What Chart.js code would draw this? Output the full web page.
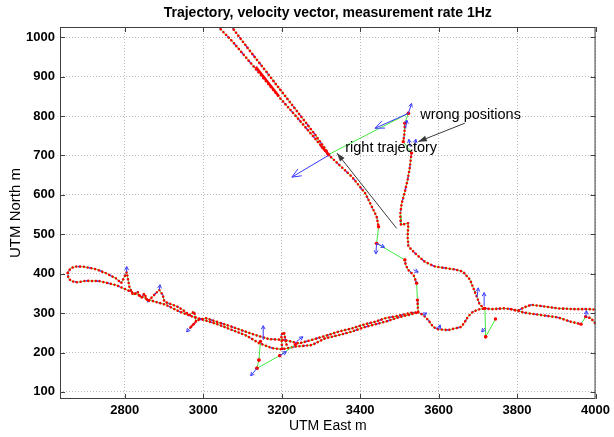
<!DOCTYPE html>
<html>
<head>
<meta charset="utf-8">
<script src="https://cdn.jsdelivr.net/npm/chart.js@4"></script>
<style>
  html, body { margin: 0; padding: 0; background: #fff; }
</style>
</head>
<body>
<canvas id="chart" width="614" height="437"></canvas>
<script>
// tick labels
const xTicks = [2800, 3000, 3200, 3400, 3600, 3800, 4000];
const yTicks = [100, 200, 300, 400, 500, 600, 700, 800, 900, 1000];

// measured positions (UTM East, UTM North), one track per continuous run
const diagLeft = [[3038, 1027], [3074, 990], [3142, 910], [3193, 849], [3244, 791], [3286, 742], [3319, 702]];
const diagRight = [[3072, 1027], [3117, 968], [3159, 915], [3201, 861], [3244, 806], [3286, 752], [3315, 711], [3319, 702]];
const diagDown = [[3319, 702], [3379, 646], [3413, 604], [3442, 545], [3447, 519]];
const rightTop = [[3514, 782], [3513, 756], [3510, 735]];
const rightDown = [[3531, 706], [3527, 672], [3521, 638], [3513, 604], [3506, 579], [3502, 549], [3504, 524], [3523, 528],
  [3521, 494], [3523, 469], [3540, 452], [3565, 430], [3591, 418], [3620, 414], [3645, 410], [3662, 405], [3680, 385],
  [3690, 360], [3698, 340], [3705, 321], [3718, 312]];
const leftDown = [[3514, 435], [3516, 422], [3523, 409], [3536, 397], [3544, 376]];
const leftJoin = [[3546, 333], [3547, 315], [3548, 302]];
const bandUpper = [[2655, 402], [2662, 414], [2675, 418], [2694, 418], [2728, 411], [2753, 401], [2778, 388], [2791, 376],
  [2805, 404], [2812, 366], [2821, 346], [2833, 354], [2842, 338], [2850, 350], [2859, 329], [2871, 342], [2888, 359],
  [2897, 346], [2901, 329], [2922, 321], [2935, 316], [2948, 308], [2965, 295], [2977, 304], [2982, 278], [2965, 261],
  [2985, 282], [3007, 287], [3041, 276], [3074, 265], [3108, 253], [3134, 244], [3168, 234], [3206, 232], [3244, 223],
  [3277, 232], [3311, 242], [3345, 253], [3379, 261], [3413, 272], [3438, 278], [3464, 287], [3497, 293], [3531, 301], [3548, 302]];
const bandLower = [[2655, 402], [2656, 389], [2664, 381], [2680, 378], [2700, 382], [2736, 381], [2778, 371], [2821, 352],
  [2863, 333], [2905, 321], [2939, 304], [2973, 291], [3007, 281], [3041, 270], [3074, 257], [3108, 244], [3142, 224],
  [3176, 211], [3201, 208], [3235, 215], [3277, 219], [3311, 236], [3345, 244], [3379, 253], [3413, 265], [3464, 278],
  [3497, 289], [3523, 295], [3548, 302]];
const spikeCluster = [[3201, 210], [3199, 245], [3206, 252], [3210, 228], [3214, 215]];
const branchLow = [[3548, 302], [3561, 295], [3574, 282], [3586, 265], [3599, 259], [3624, 257], [3641, 261], [3658, 265],
  [3667, 278], [3675, 291], [3688, 304], [3705, 310], [3718, 312]];
const eastUpper = [[3718, 312], [3734, 310], [3768, 312], [3785, 310], [3802, 306], [3819, 315], [3836, 321], [3861, 318],
  [3904, 312], [3946, 310], [3988, 310], [4005, 308]];
const eastLower = [[3785, 310], [3819, 301], [3861, 295], [3904, 289], [3937, 278], [3963, 272]];
const eastEnd = [[3975, 291], [3988, 287], [4005, 268]];
const tracks = [diagLeft, diagRight, diagDown, rightTop, rightDown, leftDown, leftJoin, bandUpper, bandLower,
  spikeCluster, branchLow, eastUpper, eastLower, eastEnd];

// dense stretches drawn solid red
const denseRuns = [[[3134, 925], [3193, 850]], [[3300, 724], [3322, 700]]];

// position jumps (no samples in between)
const jumps = [
  [[3319, 702], [3523, 807]], [[3523, 807], [3514, 782]], [[3510, 735], [3531, 706]],
  [[3447, 519], [3442, 477]], [[3442, 477], [3514, 435]], [[3544, 376], [3546, 333]],
  [[3146, 228], [3142, 181]], [[3142, 181], [3137, 160]], [[3137, 160], [3195, 192]], [[3195, 192], [3235, 220]],
  [[3718, 312], [3720, 240]], [[3720, 240], [3745, 285]], [[3963, 272], [3975, 291]]
];

// velocity vectors [start, tip]
const longVectors = [[[3319, 700], [3226, 645]], [[3523, 807], [3438, 769]]];
const vectors = [
  [[3523, 807], [3531, 832]], [[3528, 722], [3524, 741]], [[3538, 722], [3542, 741]], [[3516, 768], [3519, 790]],
  [[3442, 477], [3440, 450]], [[3442, 477], [3462, 467]], [[3536, 410], [3548, 404]], [[3137, 160], [3121, 141]],
  [[3195, 192], [3212, 202]], [[3238, 228], [3254, 240]], [[3153, 232], [3153, 268]], [[3716, 318], [3716, 352]],
  [[3698, 340], [3701, 364]], [[3718, 262], [3710, 252]], [[2805, 404], [2805, 418]], [[2888, 359], [2890, 372]],
  [[2965, 261], [2958, 252]], [[3560, 295], [3570, 300]], [[3975, 291], [3977, 306]], [[3600, 259], [3604, 270]]
];

// annotations
const noteLabels = ['wrong positions', 'right trajectory'];
const noteAt = [[3553, 803], [3362, 718]];
const noteFrom = [[3667, 782], [3493, 515]];
const noteTo = [[3548, 735], [3341, 706]];

const RED = '#ff0000';
const GREEN = '#3fe83f';
const BLUE = '#3a3aff';
const FONT = '"Liberation Sans", Arial, Helvetica, sans-serif';

const pts = arr => arr.map(([x, y]) => ({ x, y }));

const datasets = [];
tracks.forEach(t => {
    datasets.push({ data: pts(t), showLine: true, borderColor: GREEN, borderWidth: 1, pointRadius: 0, order: 8 });
    datasets.push({ data: pts(t), showLine: true, borderColor: 'rgba(60,60,255,0.9)', borderWidth: 1.6,
        borderDash: [2, 9], borderDashOffset: -2.2, pointRadius: 0, order: 7 });
    datasets.push({ data: pts(t), showLine: true, borderColor: RED, borderWidth: 2.6, borderDash: [0.01, 3.8],
        borderCapStyle: 'round', pointRadius: 0, order: 6 });
});
denseRuns.forEach(r => {
    datasets.push({ data: pts(r), showLine: true, borderColor: RED, borderWidth: 2.4, pointRadius: 0, order: 5 });
});
jumps.forEach(j => {
    datasets.push({ data: pts(j), showLine: true, borderColor: GREEN, borderWidth: 1, pointRadius: 1.7,
        pointBackgroundColor: RED, pointBorderWidth: 0, order: 5 });
});
longVectors.forEach(v => {
    datasets.push({ data: pts(v), showLine: true, borderColor: BLUE, borderWidth: 1, pointRadius: 0, order: 3,
        head: { len: 10, spread: 0.4 } });
});
vectors.forEach(v => {
    datasets.push({ data: pts(v), showLine: true, borderColor: BLUE, borderWidth: 1, pointRadius: 0, order: 3,
        head: { len: 4, spread: 0.5 } });
});
noteFrom.forEach((f, i) => {
    datasets.push({ data: pts([f, noteTo[i]]), showLine: true, borderColor: '#3a3a3a', borderWidth: 1, pointRadius: 0,
        order: 2, head: { len: 9, spread: 0.33, fill: true } });
});

// arrow heads at the tip of vector datasets
const arrowHeads = {
    id: 'arrowHeads',
    afterDatasetsDraw(chart) {
        const ctx = chart.ctx;
        chart.data.datasets.forEach((ds, i) => {
            if (!ds.head) return;
            const el = chart.getDatasetMeta(i).data;
            const a = el[el.length - 2], b = el[el.length - 1];
            const ang = Math.atan2(b.y - a.y, b.x - a.x);
            const { len, spread, fill } = ds.head;
            ctx.save();
            ctx.beginPath();
            ctx.moveTo(b.x - len * Math.cos(ang - spread), b.y - len * Math.sin(ang - spread));
            ctx.lineTo(b.x, b.y);
            ctx.lineTo(b.x - len * Math.cos(ang + spread), b.y - len * Math.sin(ang + spread));
            if (fill) {
                ctx.closePath();
                ctx.fillStyle = ds.borderColor;
                ctx.fill();
            } else {
                ctx.strokeStyle = ds.borderColor;
                ctx.lineWidth = 1;
                ctx.stroke();
            }
            ctx.restore();
        });
    }
};

// box, inner ticks, title and text notes
const frame = {
    id: 'frame',
    afterDraw(chart) {
        const { ctx, chartArea: a, scales } = chart;
        ctx.save();
        ctx.strokeStyle = '#404040';
        ctx.lineWidth = 1;
        ctx.strokeRect(a.left + 0.5, a.top + 0.5, a.right - a.left - 1, a.bottom - a.top - 1);
        ctx.beginPath();
        xTicks.forEach(v => {
            const x = Math.round(scales.x.getPixelForValue(v)) + 0.5;
            ctx.moveTo(x, a.bottom); ctx.lineTo(x, a.bottom - 5);
            ctx.moveTo(x, a.top); ctx.lineTo(x, a.top + 5);
        });
        yTicks.forEach(v => {
            const y = Math.round(scales.y.getPixelForValue(v)) + 0.5;
            ctx.moveTo(a.left, y); ctx.lineTo(a.left + 5, y);
            ctx.moveTo(a.right, y); ctx.lineTo(a.right - 5, y);
        });
        ctx.stroke();

        ctx.fillStyle = '#000';
        ctx.font = 'bold 14px ' + FONT;
        ctx.textAlign = 'center';
        ctx.textBaseline = 'middle';
        ctx.fillText('Trajectory, velocity vector, measurement rate 1Hz', (a.left + a.right) / 2, 13);

        ctx.font = '14.5px ' + FONT;
        ctx.textAlign = 'left';
        noteLabels.forEach((t, i) => {
            ctx.fillText(t, scales.x.getPixelForValue(noteAt[i][0]), scales.y.getPixelForValue(noteAt[i][1]));
        });
        ctx.restore();
    }
};

new Chart(document.getElementById('chart'), {
    type: 'scatter',
    data: { datasets },
    options: {
        responsive: false,
        devicePixelRatio: 1,
        animation: false,
        events: [],
        layout: { padding: { top: 27, right: 16, bottom: 0, left: 0 } },
        plugins: { legend: { display: false }, tooltip: { enabled: false }, title: { display: false } },
        scales: {
            x: {
                type: 'linear',
                min: 2635,
                max: 4000,
                afterBuildTicks: s => { s.ticks = xTicks.map(v => ({ value: v })); },
                afterFit: s => { s.height = 38; },
                ticks: { color: '#000', font: { family: FONT, size: 13, weight: 'bold' }, padding: 4,
                    maxRotation: 0, autoSkip: false, callback: v => String(v) },
                grid: { color: '#b8b8b8', drawTicks: false },
                border: { display: false, dash: [1, 2] },
                title: { display: true, text: 'UTM East m', color: '#000', font: { family: FONT, size: 14 },
                    padding: { top: 0, bottom: 2 } }
            },
            y: {
                type: 'linear',
                min: 82,
                max: 1026,
                afterBuildTicks: s => { s.ticks = yTicks.map(v => ({ value: v })); },
                afterFit: s => { s.width = 60; },
                ticks: { color: '#000', font: { family: FONT, size: 13, weight: 'bold' }, padding: 5,
                    autoSkip: false, callback: v => String(v) },
                grid: { color: '#b8b8b8', drawTicks: false },
                border: { display: false, dash: [1, 2] },
                title: { display: true, text: 'UTM North m', color: '#000', font: { family: FONT, size: 15 },
                    padding: { top: 7, bottom: 0 } }
            }
        }
    },
    plugins: [arrowHeads, frame]
});
</script>
</body>
</html>
